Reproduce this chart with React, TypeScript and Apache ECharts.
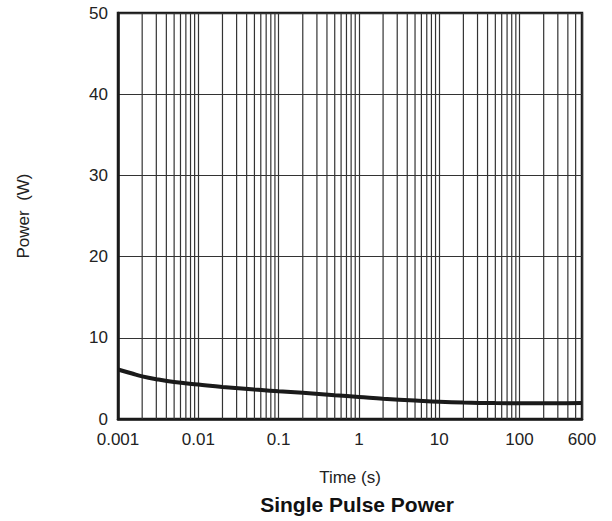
import React, { useEffect, useRef } from "react";
import * as echarts from "echarts";

const timeSeconds = [0.001, 0.0015, 0.002, 0.003, 0.005, 0.01, 0.02, 0.05, 0.1, 0.2, 0.5, 1, 2, 5, 10, 20, 50, 100, 300, 600];
const powerWatts = [6.1, 5.6, 5.25, 4.9, 4.55, 4.25, 3.95, 3.62, 3.42, 3.22, 2.92, 2.72, 2.5, 2.28, 2.12, 2.02, 1.96, 1.95, 1.95, 1.97];
const minorGridTimes: number[] = [];
[0.001, 0.01, 0.1, 1, 10, 100].forEach((d) => {
  for (let m = 2; m <= 9; m++) {
    const v = +(d * m).toPrecision(3);
    if (v < 600) minorGridTimes.push(v);
  }
});
const yTicks = [0, 10, 20, 30, 40, 50];

export default function App() {
  const ref = useRef<HTMLDivElement>(null);
  useEffect(() => {
    if (!ref.current) return;
    const chart = echarts.init(ref.current, undefined, { renderer: "svg" });
    const font = "Liberation Sans, Arial, Helvetica, sans-serif";
    chart.setOption({
      animation: false,
      backgroundColor: "#ffffff",
      title: {
        text: "Single Pulse Power",
        left: 352,
        textAlign: "center",
        top: 489,
        textStyle: { fontFamily: font, fontSize: 21, fontWeight: "bold", color: "#111" },
      },
      grid: {
        left: 118,
        right: 30,
        top: 13,
        bottom: 102,
        show: true,
        borderColor: "#1a1a1a",
        borderWidth: 2.5,
        backgroundColor: "transparent",
      },
      xAxis: {
        type: "log",
        logBase: 10,
        min: 0.001,
        max: 600,
        name: "Time (s)",
        nameLocation: "middle",
        nameGap: 50,
        nameTextStyle: { fontFamily: font, fontSize: 17, color: "#222" },
        axisLine: { show: true, lineStyle: { color: "#1a1a1a", width: 2.5 } },
        axisTick: { show: false },
        minorTick: { show: false },
        axisLabel: {
          fontFamily: font,
          fontSize: 17,
          color: "#222",
          margin: 12,
          showMinLabel: true,
          showMaxLabel: true,
          formatter: (v: number) => String(+v.toPrecision(3)),
        },
        splitLine: { show: true, lineStyle: { color: "#333", width: 1.2 } },
      },
      yAxis: {
        type: "value",
        min: yTicks[0],
        max: yTicks[yTicks.length - 1],
        interval: 10,
        name: "Power  (W)",
        nameLocation: "middle",
        nameGap: 86,
        nameTextStyle: { fontFamily: font, fontSize: 17, color: "#222" },
        axisLine: { show: true, lineStyle: { color: "#1a1a1a", width: 2.5 } },
        axisTick: { show: false },
        axisLabel: { fontFamily: font, fontSize: 17, color: "#222", margin: 10 },
        splitLine: { show: true, lineStyle: { color: "#333", width: 1.2 } },
      },
      series: [
        {
          type: "custom",
          silent: true,
          data: minorGridTimes.map((t) => [t]),
          renderItem: (params: any, api: any) => {
            const x = api.value(0);
            const p0 = api.coord([x, yTicks[0]]);
            const p1 = api.coord([x, yTicks[yTicks.length - 1]]);
            return {
              type: "line",
              shape: { x1: p0[0], y1: p0[1], x2: p1[0], y2: p1[1] },
              style: { stroke: "#333", lineWidth: 1.2 },
            };
          },
          z: 1,
        },
        {
          type: "line",
          data: timeSeconds.map((t, i) => [t, powerWatts[i]]),
          smooth: 0.4,
          showSymbol: false,
          lineStyle: { color: "#1a1a1a", width: 4 },
          z: 5,
        },
      ],
    });
    return () => chart.dispose();
  }, []);
  return (
    <div
      ref={ref}
      style={{ position: "fixed", left: 0, top: 0, width: 612, height: 521, background: "#fff" }}
    />
  );
}
